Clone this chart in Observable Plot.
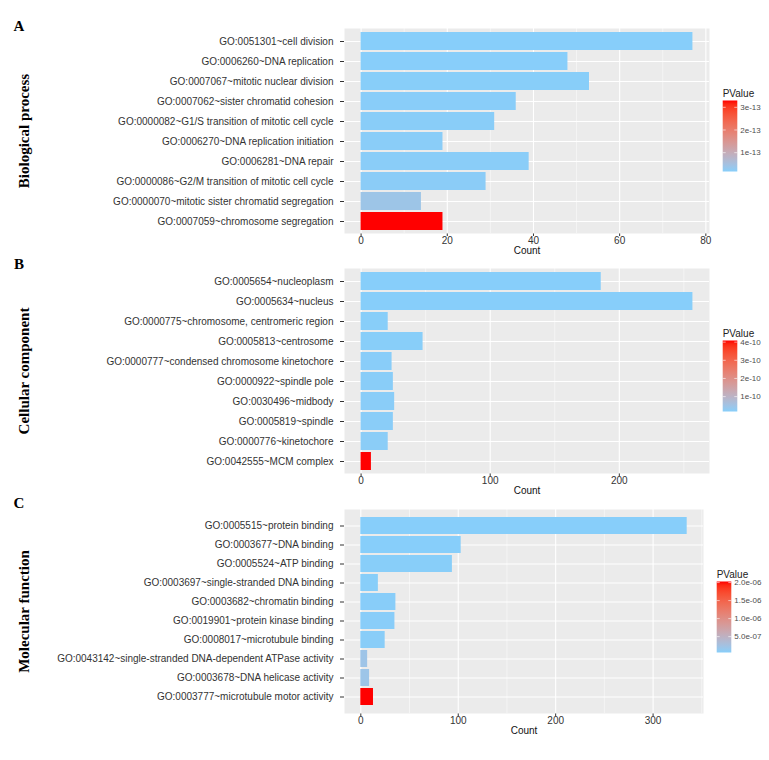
<!DOCTYPE html>
<html><head><meta charset="utf-8">
<script src="https://cdn.jsdelivr.net/npm/d3@7"></script>
<script src="https://cdn.jsdelivr.net/npm/@observablehq/plot@0.6"></script>
<style>
body{margin:0;background:#fff;}
#root{position:relative;width:769px;height:760px;overflow:hidden;font-family:"Liberation Sans",Arial,sans-serif;}
#root svg{position:absolute;left:0;}
</style></head><body><div id="root"></div>
<script>
// ---- Panel A: Biological process ----
const termsA = ["GO:0051301~cell division","GO:0006260~DNA replication","GO:0007067~mitotic nuclear division","GO:0007062~sister chromatid cohesion","GO:0000082~G1/S transition of mitotic cell cycle","GO:0006270~DNA replication initiation","GO:0006281~DNA repair","GO:0000086~G2/M transition of mitotic cell cycle","GO:0000070~mitotic sister chromatid segregation","GO:0007059~chromosome segregation"];
const countsA = [77, 48, 53, 36, 31, 19, 39, 29, 14, 19];
const pvalA = [1.7e-14, 1.75e-14, 1.8e-14, 1.85e-14, 1.9e-14, 1.95e-14, 2.0e-14, 2.1e-14, 4.0e-14, 3.3e-13];
const xTicksA = [0, 20, 40, 60, 80];
const xMinorA = [10, 30, 50, 70];
const legendTicksA = [1e-13, 2e-13, 3e-13];
const legendLabelsA = ["1e-13", "2e-13", "3e-13"];

// ---- Panel B: Cellular component ----
const termsB = ["GO:0005654~nucleoplasm","GO:0005634~nucleus","GO:0000775~chromosome, centromeric region","GO:0005813~centrosome","GO:0000777~condensed chromosome kinetochore","GO:0000922~spindle pole","GO:0030496~midbody","GO:0005819~spindle","GO:0000776~kinetochore","GO:0042555~MCM complex"];
const countsB = [186, 257, 21, 48, 24, 25, 26, 25, 21, 8];
const pvalB = [1.8e-11, 1.85e-11, 1.9e-11, 1.95e-11, 2.0e-11, 2.05e-11, 2.1e-11, 2.15e-11, 2.2e-11, 4.09e-10];
const xTicksB = [0, 100, 200];
const xMinorB = [50, 150, 250];
const legendTicksB = [1e-10, 2e-10, 3e-10, 4e-10];
const legendLabelsB = ["1e-10", "2e-10", "3e-10", "4e-10"];

// ---- Panel C: Molecular function ----
const termsC = ["GO:0005515~protein binding","GO:0003677~DNA binding","GO:0005524~ATP binding","GO:0003697~single-stranded DNA binding","GO:0003682~chromatin binding","GO:0019901~protein kinase binding","GO:0008017~microtubule binding","GO:0043142~single-stranded DNA-dependent ATPase activity","GO:0003678~DNA helicase activity","GO:0003777~microtubule motor activity"];
const countsC = [335, 103, 94, 18, 36, 35, 25, 7, 9, 13];
const pvalC = [6.0e-8, 6.2e-8, 6.4e-8, 6.6e-8, 6.8e-8, 7.0e-8, 7.2e-8, 2.1e-7, 2.0e-7, 2.03e-6];
const xTicksC = [0, 100, 200, 300];
const xMinorC = [50, 150, 250, 350];
const legendTicksC = [5e-7, 1e-6, 1.5e-6, 2e-6];
const legendLabelsC = ["5.0e-07", "1.0e-06", "1.5e-06", "2.0e-06"];

const lowColor = "#87CEFA", highColor = "#FF0000";

function panel(o) {
  const rows = o.terms.map((t, i) => ({term: t, count: o.counts[i], p: o.pvals[i]}));
  const maxC = d3.max(o.counts);
  const chart = Plot.plot({
    width: 769, height: o.height,
    marginTop: o.mt, marginBottom: o.mb, marginLeft: 344, marginRight: o.mr,
    style: {background: "transparent", overflow: "visible", fontFamily: "Liberation Sans, Arial, sans-serif", fontSize: "10px", color: "#333"},
    x: {domain: [-0.05 * maxC, 1.05 * maxC], ticks: o.ticks, tickSize: 3, tickPadding: 0, label: null, tickFormat: d => String(d)},
    y: {domain: o.terms, paddingInner: 0.1, paddingOuter: 0.15, tickSize: 4, tickPadding: 7, label: null},
    color: {type: "linear", domain: d3.extent(o.pvals), range: [lowColor, highColor], interpolate: d3.interpolateLab},
    marks: [
      Plot.frame({fill: "#EBEBEB", stroke: "none"}),
      Plot.ruleX(o.minor, {stroke: "white", strokeWidth: 0.5}),
      Plot.ruleX(o.ticks, {stroke: "white", strokeWidth: 1.1}),
      Plot.ruleY(o.terms, {stroke: "white", strokeWidth: 1.1}),
      Plot.barX(rows, {x: "count", y: "term", fill: "p"}),
      Plot.text([o.title], {text: d => d, frameAnchor: "left", dx: 23.5 - 344, rotate: -90, fontFamily: "Liberation Serif, Times New Roman, serif", fontWeight: "bold", fontSize: 15, fill: "black", textAnchor: "middle", lineAnchor: "middle"}),
      Plot.text([o.letter], {text: d => d, frameAnchor: "top-left", dx: 18.5 - 344, dy: o.letterDy, fontFamily: "Liberation Serif, Times New Roman, serif", fontWeight: "bold", fontSize: 15, fill: "black", textAnchor: "middle", lineAnchor: "middle"}),
      Plot.text(["Count"], {text: d => d, frameAnchor: "bottom", dy: 20.5, fontSize: 10, fill: "#111"})
    ]
  });
  chart.style.top = o.top + "px";
  addLegend(chart, o);
  document.getElementById("root").appendChild(chart);
}

function addLegend(chart, o) {
  const cs = chart.scale("color");
  const sc = Plot.scale({color: cs});
  const [lo, hi] = cs.domain;
  const svg = d3.select(chart);
  const id = "grad" + o.letter;
  const grad = svg.append("defs").append("linearGradient").attr("id", id)
    .attr("x1", 0).attr("y1", 1).attr("x2", 0).attr("y2", 0);
  d3.range(0, 21).forEach(k => {
    const t = k / 20;
    grad.append("stop").attr("offset", t).attr("stop-color", sc.apply(lo + t * (hi - lo)));
  });
  const top = o.mt + 72.5, h = 71, w = 14.6, x = o.legendX;
  const yL = d3.scaleLinear().domain([lo, hi]).range([top + h, top]);
  const g = svg.append("g").attr("text-anchor", "start");
  g.append("text").attr("x", x).attr("y", top - 3.5).attr("fill", "#222").attr("text-anchor", "start")
    .attr("font-size", 10).attr("font-family", "Liberation Sans, Arial, sans-serif").text("PValue");
  g.append("rect").attr("x", x).attr("y", top).attr("width", w).attr("height", h).attr("fill", `url(#${id})`);
  o.legendTicks.forEach((v, i) => {
    const y = yL(v);
    g.append("line").attr("x1", x).attr("x2", x + 3).attr("y1", y).attr("y2", y).attr("stroke", "white").attr("stroke-width", 0.6);
    g.append("line").attr("x1", x + w - 3).attr("x2", x + w).attr("y1", y).attr("y2", y).attr("stroke", "white").attr("stroke-width", 0.6);
    g.append("text").attr("x", x + w + 3).attr("y", y).attr("dy", "0.35em").attr("fill", "#4d4d4d").attr("text-anchor", "start")
      .attr("font-size", 8).attr("font-family", "Liberation Sans, Arial, sans-serif").text(o.legendLabels[i]);
  });
}

panel({terms: termsA, counts: countsA, pvals: pvalA, ticks: xTicksA, minor: xMinorA, title: "Biological process", letter: "A",
  legendTicks: legendTicksA, legendLabels: legendLabelsA, top: 0, height: 258, mt: 28, mb: 25, mr: 60, legendX: 722.7, letterDy: -2.2});
panel({terms: termsB, counts: countsB, pvals: pvalB, ticks: xTicksB, minor: xMinorB, title: "Cellular component", letter: "B",
  legendTicks: legendTicksB, legendLabels: legendLabelsB, top: 250, height: 250, mt: 18, mb: 27, mr: 60, legendX: 722.7, letterDy: -4.7});
panel({terms: termsC, counts: countsC, pvals: pvalC, ticks: xTicksC, minor: xMinorC, title: "Molecular function", letter: "C",
  legendTicks: legendTicksC, legendLabels: legendLabelsC, top: 490, height: 260, mt: 19, mb: 37, mr: 66, legendX: 716.7, letterDy: -6});
</script></body></html>
